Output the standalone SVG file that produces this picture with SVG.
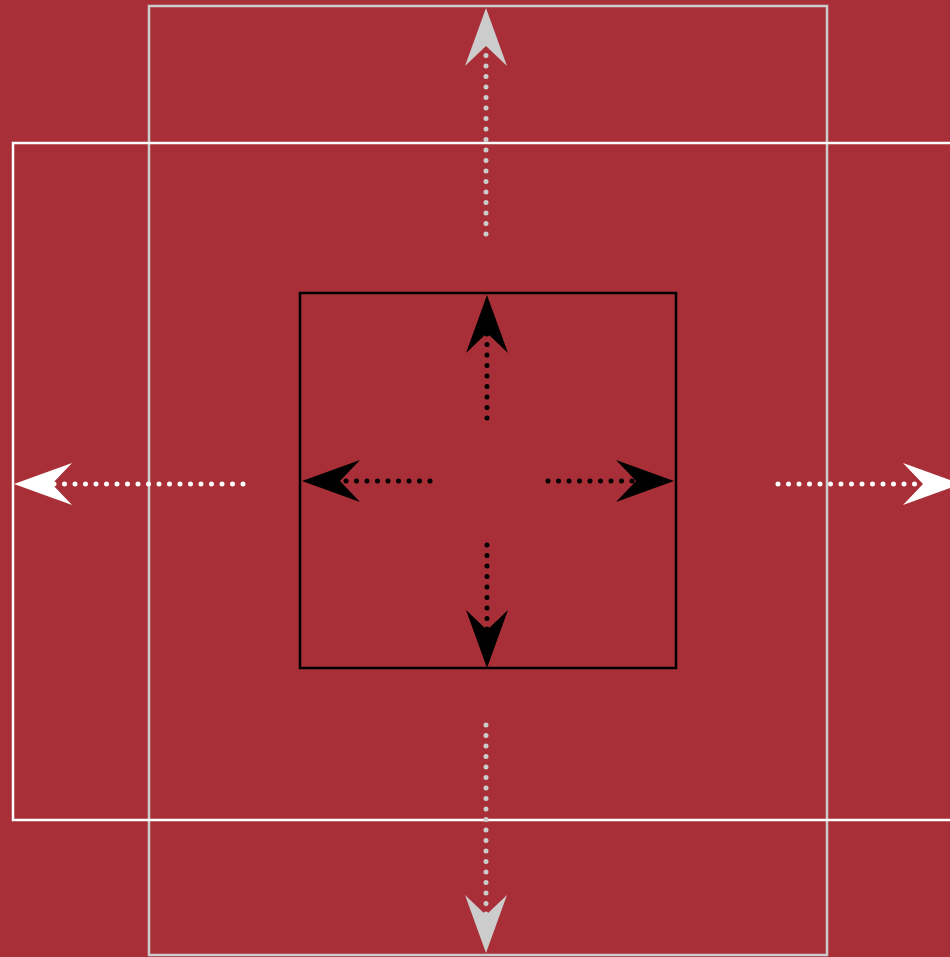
<svg xmlns="http://www.w3.org/2000/svg" width="950" height="957" viewBox="0 0 950 957">
<style>
.dot{fill:none;stroke-width:5;stroke-linecap:round;stroke-dasharray:0 10.5}
.g{stroke:#cccccc}.w{stroke:#ffffff}.k{stroke:#000000}
.box{fill:none;stroke-width:2.5}
</style>
<defs>
<marker id="mg" markerUnits="userSpaceOnUse" markerWidth="70" markerHeight="50" viewBox="0 -25 60 50" refX="20" refY="0" orient="auto"><path d="M0,-21 L58,0 L0,21 L20,0 Z" fill="#cccccc"/></marker>
<marker id="mw" markerUnits="userSpaceOnUse" markerWidth="70" markerHeight="50" viewBox="0 -25 60 50" refX="20" refY="0" orient="auto"><path d="M0,-21 L58,0 L0,21 L20,0 Z" fill="#ffffff"/></marker>
<marker id="mk" markerUnits="userSpaceOnUse" markerWidth="70" markerHeight="50" viewBox="0 -25 60 50" refX="20" refY="0" orient="auto"><path d="M0,-21 L58,0 L0,21 L20,0 Z" fill="#000000"/></marker>
</defs>
<rect width="950" height="957" fill="#a82f37"/>
<g id="outer-gray"><rect class="box" x="149" y="6" width="678" height="949" stroke="#cccccc"/></g>
<g id="middle-white"><rect class="box" x="13" y="143" width="960" height="677" stroke="#ffffff"/></g>
<g id="inner-black"><rect class="box" x="300" y="293" width="376" height="375" stroke="#000000"/></g>
<g id="connectors">
<path class="dot g" d="M486,234 L486,46" marker-end="url(#mg)"/>
<path class="dot g" d="M486,725 L486,915" marker-end="url(#mg)"/>
<path class="dot w" d="M243,484 L52,484" marker-end="url(#mw)"/>
<path class="dot w" d="M778,484 L923,484" marker-end="url(#mw)"/>
<path class="dot k" d="M487,418 L487,333" marker-end="url(#mk)"/>
<path class="dot k" d="M487,545 L487,630" marker-end="url(#mk)"/>
<path class="dot k" d="M430,481 L340,481" marker-end="url(#mk)"/>
<path class="dot k" d="M548,481 L636,481" marker-end="url(#mk)"/>
</g>
</svg>
